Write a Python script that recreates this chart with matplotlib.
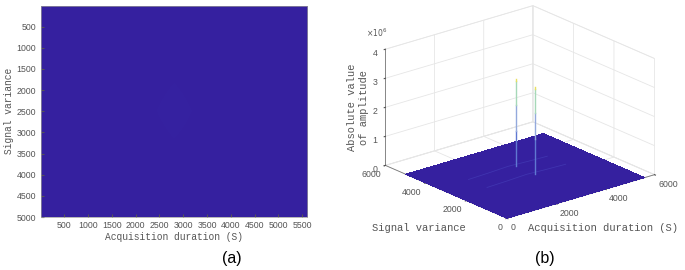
import numpy as np
import matplotlib
matplotlib.use('Agg')
import matplotlib.pyplot as plt
from matplotlib.colors import LinearSegmentedColormap

# parula-ish, only the low end shows up in panel (a)
parula = LinearSegmentedColormap.from_list(
    'parula_like', ['#35209f', '#3a3fd0', '#2f8fd8', '#35b8a0', '#a8c95a', '#f0d832'])

duration = [0, 1400, 2800, 4200, 5600]
variance = [0, 1250, 2500, 3750, 5000]
amplitude = [[0.00, 0.00, 0.01, 0.00, 0.00],
             [0.00, 0.01, 0.02, 0.01, 0.00],
             [0.00, 0.01, 0.03, 0.01, 0.00],
             [0.00, 0.01, 0.02, 0.01, 0.00],
             [0.00, 0.00, 0.01, 0.00, 0.00]]

x_ticks_a = [500, 1000, 1500, 2000, 2500, 3000, 3500, 4000, 4500, 5000, 5500]
y_ticks_a = [500, 1000, 1500, 2000, 2500, 3000, 3500, 4000, 4500, 5000]

# panel (b)
spike_x = [3130, 3145]
spike_y = [3350, 2440]
spike_height = [3.0e6, 3.0e6]
spike_levels = [0.0, 0.4, 0.7, 0.97, 1.0]
spike_colors = ['#5f78d2', '#93a9dc', '#a6d8b8', '#e8e060']
ridge_x = [1200, 2000, 2800, 3600, 4400]
ridge_y = [3350, 2440]
ridge_z = [0.02e6, 0.04e6, 0.07e6, 0.04e6, 0.02e6]
ticks_b = [0, 2000, 4000, 6000]
z_ticks = [0, 1e6, 2e6, 3e6, 4e6]
z_labels = ['0', '1', '2', '3', '4']

GREY = '#555555'
plt.rcParams['font.family'] = ['Liberation Sans', 'DejaVu Sans']
MONO = ['Liberation Mono', 'DejaVu Sans Mono']

fig = plt.figure(figsize=(6.85, 2.70), dpi=100)

# (a)
ax = fig.add_axes([40.5 / 685, 1 - 217 / 270, 266.5 / 685, 211.5 / 270])
ax.imshow(amplitude, extent=[0, 5600, 5000, 0], aspect='auto', cmap=parula,
          vmin=0, vmax=3, interpolation='bilinear')
ax.set_xticks(x_ticks_a)
ax.set_yticks(y_ticks_a)
ax.tick_params(labelsize=6.3, colors=GREY, length=2, direction='in', pad=3)
for s in ax.spines.values():
    s.set_color('#9a9a9a')
    s.set_linewidth(0.5)
ax.set_xlabel('Acquisition duration (S)', family=MONO, fontsize=6.9, color=GREY, labelpad=1)
ax.set_ylabel('Signal variance', family=MONO, fontsize=6.9, color=GREY, labelpad=2)

# (b)
ax3 = fig.add_axes([343.8 / 685, 19.4 / 270, 345 / 685, 1], projection='3d', computed_zorder=False)
ax3.set_proj_type('ortho')
ax3.view_init(elev=21, azim=-129.5)
ax3.set_box_aspect((192, 192, 125), zoom=1.07)
ax3.patch.set_alpha(0)

X, Y = np.meshgrid(duration, variance)
ax3.plot_surface(X, Y, np.zeros_like(X, dtype=float), color='#35209f', shade=False,
                 linewidth=0, antialiased=False, zorder=1)
for ry in ridge_y:
    ax3.plot(ridge_x, [ry] * len(ridge_x), ridge_z, color='#4a48c0', lw=0.6, alpha=0.5, zorder=2)
for sx, sy, h in zip(spike_x, spike_y, spike_height):
    for lo, hi, c in zip(spike_levels[:-1], spike_levels[1:], spike_colors):
        ax3.plot([sx, sx], [sy, sy], [lo * h, hi * h], lw=1.0, color=c, zorder=3)

ax3.set_xlim(0, 6000)
ax3.set_ylim(0, 6000)
ax3.set_zlim(0, 4e6)
ax3.set_xticks(ticks_b)
ax3.set_yticks(ticks_b)
ax3.set_zticks(z_ticks)
ax3.set_zticklabels(z_labels)
ax3.tick_params(labelsize=6.3, colors=GREY)
ax3.tick_params(axis='x', pad=-5)
ax3.tick_params(axis='y', pad=-5)
ax3.tick_params(axis='z', pad=-4)
for t in ax3.get_xticklabels():
    t.set_ha('left')
for t in ax3.get_yticklabels():
    t.set_ha('right')
for a in (ax3.xaxis, ax3.yaxis, ax3.zaxis):
    a.set_pane_color((1, 1, 1, 1))
    a.pane.set_edgecolor('#e6e6e6')
    a.pane.set_linewidth(0.5)
    a.line.set_color('#777777')
    a.line.set_linewidth(0.6)
    a._axinfo['grid']['color'] = '#e6e6e6'
    a._axinfo['grid']['linewidth'] = 0.6
    a._axinfo['tick']['inward_factor'] = 0.1
    a._axinfo['tick']['outward_factor'] = 0.0

fig.text(358 / 685, 1 - 107 / 270, 'Absolute value\nof amplitude', family=MONO, fontsize=7.5,
         color=GREY, rotation=90, ha='center', va='center', linespacing=1.25)
fig.text(419 / 685, 1 - 228 / 270, 'Signal variance', family=MONO, fontsize=7.6, color=GREY,
         ha='center', va='center')
fig.text(603.5 / 685, 1 - 228 / 270, 'Acquisition duration (S)', family=MONO, fontsize=7.6,
         color=GREY, ha='center', va='center')
fig.text(366 / 685, 1 - 33 / 270, r'$\times 10^{6}$', fontsize=5.5, color=GREY, va='center')

fig.text(232 / 685, 1 - 258 / 270, '(a)', fontsize=11.5, ha='center', va='center')
fig.text(545 / 685, 1 - 258 / 270, '(b)', fontsize=11.5, ha='center', va='center')

fig.savefig('out.png', dpi=100)
